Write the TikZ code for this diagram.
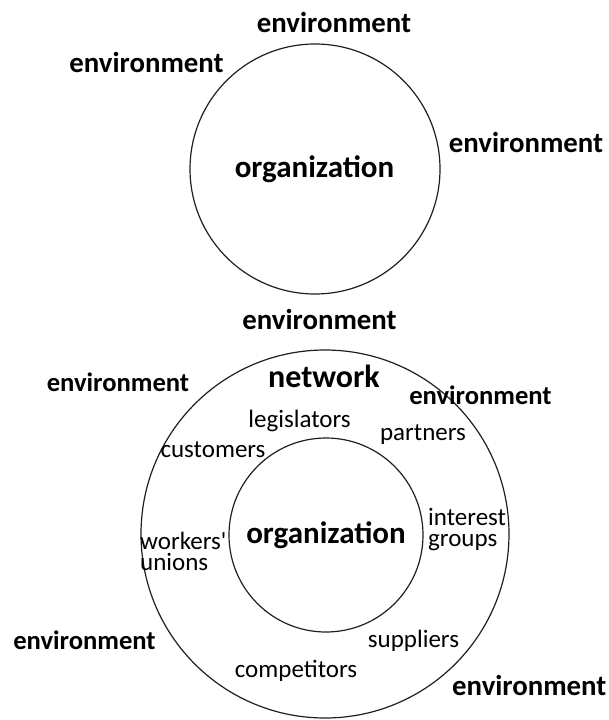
\documentclass[tikz,border=0pt]{standalone}
\usepackage{fontspec}
\setmainfont{Carlito}[Ligatures=TeXOff]
\begin{document}
\begin{tikzpicture}[x=1pt,y=-1pt,
  ring/.style={draw=black!88,line width=1.2pt},
  envlabel/.style={anchor=base,inner sep=0pt,font=\fontsize{28.8}{30}\selectfont\bfseries},
  envsmall/.style={anchor=base,inner sep=0pt,font=\fontsize{26.6}{28}\selectfont\bfseries},
  orglabel/.style={anchor=base,inner sep=0pt,font=\fontsize{31}{32}\selectfont\bfseries},
  actor/.style={anchor=base,inner sep=0pt,font=\fontsize{25}{26}\selectfont},
  actorpair/.style={anchor=north west,inner sep=0pt,align=left,font=\fontsize{25}{20.5}\selectfont}]
\useasboundingbox (0,0) rectangle (608,720);

% organization on its own, surrounded by the environment
\draw[ring] (315,169) circle[radius=125];
\node[orglabel] (orgA) at (314.5,177) {organization};
\node[envlabel] (envTop) at (334,32) {environment};
\node[envlabel] (envTL) at (146.5,72) {environment};
\node[envlabel] (envTR) at (526,152) {environment};

% organization embedded in its network
\draw[ring] (325,534) circle[radius=184];
\draw[ring] (326,535) circle[radius=97];
\node[orglabel] (orgB) at (326,543) {organization};
\node[orglabel,font=\fontsize{32}{34}\selectfont\bfseries] (net) at (324,387) {network};
\node[envlabel] (envMid) at (319.5,329) {environment};
\node[envsmall] (envBL) at (118,391.5) {environment};
\node[envsmall] (envBR) at (480.5,404) {environment};
\node[envsmall] (envLL) at (84.5,649.5) {environment};
\node[envlabel,anchor=base west] (envLR) at (452,695) {environment};

\node[actor] (legis) at (299.5,427.5) {legislators};
\node[actor] (partn) at (423,440) {partners};
\node[actor] (custo) at (213,457) {customers};
\node[actorpair] (workers) at (140,532) {workers'\\unions};
\node[actorpair] (interest) at (428,508.5) {interest\\groups};
\node[actor] (suppl) at (413.5,647) {suppliers};
\node[actor] (compe) at (296,677) {competitors};
\end{tikzpicture}
\end{document}
